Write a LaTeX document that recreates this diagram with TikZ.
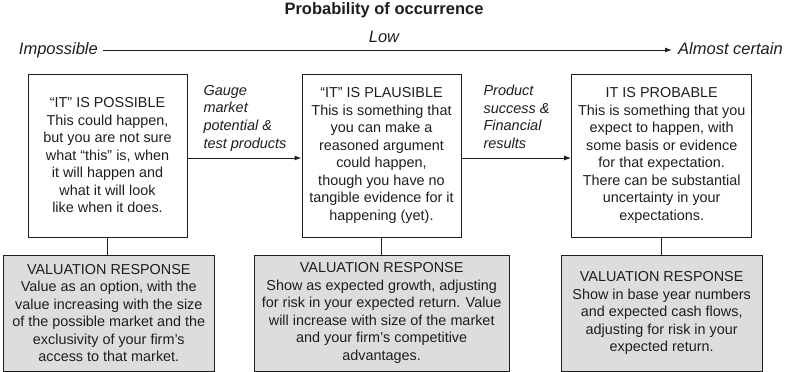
\documentclass[tikz,border=0pt]{standalone}
\usepackage{fontspec}
\setmainfont{Liberation Sans}
\usetikzlibrary{arrows.meta}
\definecolor{boxgray}{RGB}{221,221,221}
\definecolor{ink}{RGB}{30,30,30}
\begin{document}
\begin{tikzpicture}[x=1pt,y=-1pt,
  every node/.style={inner sep=0pt,text=ink},
  boxtxt/.style={font=\fontsize{14.4}{17.5}\selectfont,align=center},
  topbox/.style={boxtxt,draw=ink,line width=1pt,minimum height=163pt},
  valbox/.style={boxtxt,draw=ink,line width=1pt,fill=boxgray,minimum height=116pt},
  axislabel/.style={font=\itshape\fontsize{16.5}{20}\selectfont},
  edgelabel/.style={font=\itshape\fontsize{14.5}{17.6}\selectfont,align=left,anchor=north west},
  link/.style={draw=ink,line width=1pt},
  arr/.style={link,-{Latex[length=7pt,width=5pt]}}
]
\useasboundingbox (0,0) rectangle (785,372);

% title and axis
\node[anchor=base,font=\bfseries\fontsize{16.5}{20}\selectfont] (title) at (384,14) {Probability of occurrence};
\node[axislabel,anchor=base] (low) at (384,42.7) {Low};
\node[axislabel,anchor=base east] (imp) at (98,54) {Impossible};
\node[axislabel,anchor=base west] (cert) at (678,54) {Almost certain};
\coordinate (axs) at (103,50);
\coordinate (axe) at (672,50);
\draw[arr] (axs) -- (axe);

% top boxes
\node[topbox,minimum width=159pt] (b1) at (107.5,155.5) {“IT” IS POSSIBLE\\This could happen,\\but you are not sure\\what “this” is, when\\it will happen and\\what it will look\\like when it does.};
\node[topbox,minimum width=159pt] (b2) at (381.5,155.5) {“IT” IS PLAUSIBLE\\This is something that\\you can make a\\reasoned argument\\could happen,\\though you have no\\tangible evidence for it\\happening (yet).};
\node[topbox,minimum width=180pt] (b3) at (661.7,155.5) {IT IS PROBABLE\\This is something that you\\expect to happen, with\\some basis or evidence\\for that expectation.\\There can be substantial\\uncertainty in your\\expectations.};

% bottom boxes
\node[valbox,minimum width=211pt] (v1) at (108.8,313) {VALUATION RESPONSE\\Value as an option, with the\\value increasing with the size\\of the possible market and the\\exclusivity of your firm’s\\access to that market.};
\node[valbox,minimum width=254.7pt] (v2) at (381.7,313) {VALUATION RESPONSE\\Show as expected growth, adjusting\\for risk in your expected return. Value\\will increase with size of the market\\and your firm’s competitive\\advantages.};
\node[valbox,minimum width=201.3pt] (v3) at (661.7,313) {VALUATION RESPONSE\\Show in base year numbers\\and expected cash flows,\\adjusting for risk in your\\expected return.};

% arrows between top boxes
\draw[arr] ([yshift=-2.5pt]b1.east) -- ([yshift=-2.5pt]b2.west);
\draw[arr] ([yshift=-2.5pt]b2.east) -- ([yshift=-2.5pt]b3.west);
\node[edgelabel] (l1) at (203.3,85) {Gauge\\market\\potential \&\\test products};
\node[edgelabel] (l2) at (483.3,85) {Product\\success \&\\Financial\\results};

% connectors to valuation boxes
\draw[link] (b1.south) -- (b1.south |- v1.north);
\draw[link] (b2.south) -- (b2.south |- v2.north);
\draw[link] (b3.south) -- (b3.south |- v3.north);
\end{tikzpicture}
\end{document}
